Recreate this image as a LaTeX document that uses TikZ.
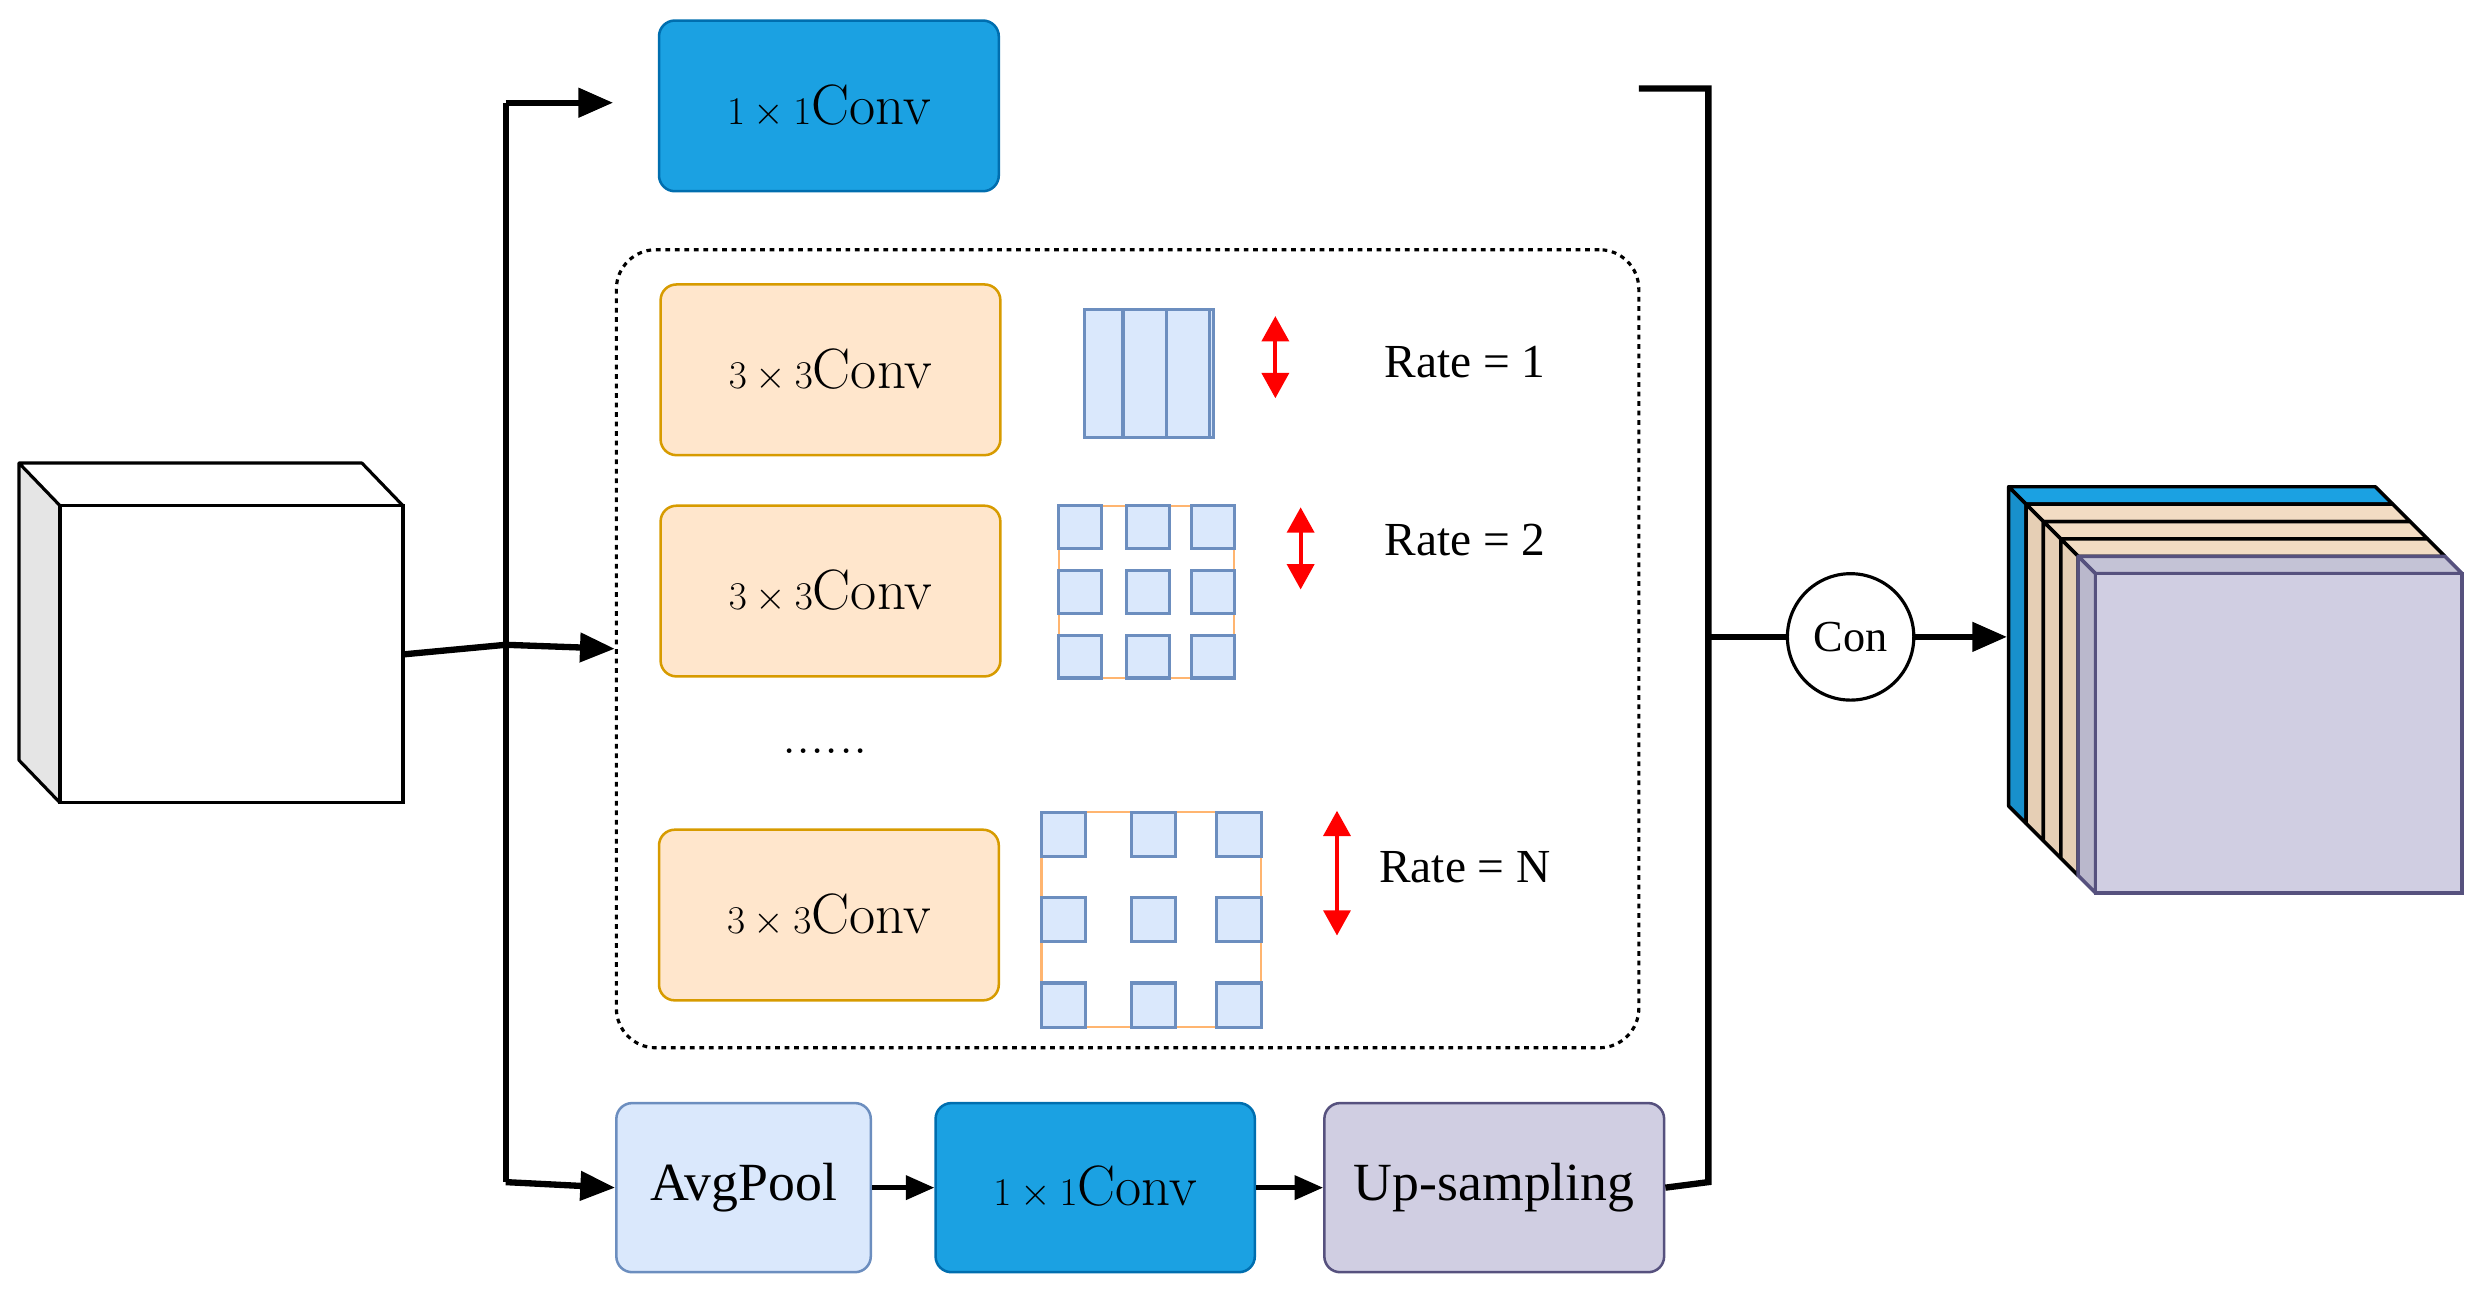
\documentclass[tikz,border=0pt]{standalone}
\usepackage[no-math]{fontspec}
\newfontfamily\tnr{Liberation Serif}
\usetikzlibrary{arrows.meta}
\definecolor{cblue}{HTML}{1BA1E2}\definecolor{cbluel}{HTML}{006EAF}
\definecolor{oran}{HTML}{FFE6CC}\definecolor{oranl}{HTML}{D79B00}
\definecolor{lblue}{HTML}{DAE8FC}\definecolor{lbluel}{HTML}{6C8EBF}
\definecolor{purp}{HTML}{D0CEE2}\definecolor{purpl}{HTML}{56517E}
\definecolor{gridor}{HTML}{FFB570}
\definecolor{beigetop}{HTML}{F2DCC3}\definecolor{beigeside}{HTML}{E6CFB5}
\definecolor{purptop}{HTML}{C4C3D6}\definecolor{purpside}{HTML}{BAB8CC}
\definecolor{blueside}{HTML}{1890CC}
\tikzset{
 box/.style={rounded corners=10pt,line width=1.6pt,minimum width=215pt,minimum height=108pt,inner sep=0pt},
 bluebox/.style={box,fill=cblue,draw=cbluel},
 orbox/.style={box,fill=oran,draw=oranl},
 conv/.style={font=\fontsize{36}{40}\selectfont},
 tn/.style={font=\tnr\fontsize{30}{34}\selectfont},
 thick4/.style={line width=4pt},
 tip/.style={-{Triangle[length=22pt,width=18pt]}},
 stip/.style={-{Triangle[length=18pt,width=15pt]}},
 cell/.style={fill=lblue,draw=lbluel,line width=2pt},
 redarr/.style={{Triangle[length=16pt,width=17pt]}-{Triangle[length=16pt,width=17pt]},red,line width=2.5pt},
}
\begin{document}
\begin{tikzpicture}[x=1pt,y=-1pt]
\useasboundingbox (0,0) rectangle (1568,824);
% input cube
\fill[white] (12,293)--(229,293)--(255,320)--(38,320)--cycle;
\fill[gray!20] (12,293)--(38,320)--(38,508)--(12,481)--cycle;
\draw[line width=2pt,line join=round] (12,293)--(229,293)--(255,320)--(38,320)--cycle (12,293)--(12,481)--(38,508);
\node[draw,line width=2pt,fill=white,minimum width=217pt,minimum height=188pt,inner sep=0pt] (in) at (146.5,414) {};
% dashed region
\node[draw,dashed,line width=2pt,rounded corners=25pt,minimum width=647pt,minimum height=505pt] (dash) at (713.5,410.5) {};
% boxes
\node[bluebox,conv] (c1) at (524.5,67) {$1\times1$Conv};
\node[orbox,conv] (o1) at (525.5,234) {$3\times3$Conv};
\node[orbox,conv] (o2) at (525.5,374) {$3\times3$Conv};
\node[orbox,conv] (o3) at (524.5,579) {$3\times3$Conv};
\node[conv] (dots) at (522,475) {......};
\node[box,fill=lblue,draw=lbluel,minimum width=161pt,minimum height=107pt,font=\tnr\fontsize{34}{38}\selectfont] (avg) at (470.5,751.5) {AvgPool};
\node[bluebox,conv,minimum width=202pt,minimum height=107pt] (c2) at (693,751.5) {$1\times1$Conv};
\node[box,fill=purp,draw=purpl,minimum width=215pt,minimum height=107pt,font=\tnr\fontsize{34}{38}\selectfont] (up) at (945.5,751.5) {Up-sampling};
% grids
\fill[lblue] (686,196) rectangle (768,277);
\draw[lbluel,line width=2pt] (686,196) grid[xstep=27.33,ystep=27] (768,277);
\draw[lbluel,line width=2pt] (686,196) rectangle (768,277);
\draw[gridor,line width=1.5pt] (670,320) rectangle (781,429);
\foreach \x in {670,713,754}\foreach \y in {320,361,402}\draw[cell] (\x,\y) rectangle ++(27,27);
\draw[gridor,line width=1.5pt] (659,514) rectangle (798,650);
\foreach \x in {659,716,770}\foreach \y in {514,568,622}\draw[cell] (\x,\y) rectangle ++(28,28);
% red arrows
\coordinate (r1a) at (807,200);\coordinate (r1b) at (807,252);
\coordinate (r2a) at (823,321);\coordinate (r2b) at (823,373);
\coordinate (r3a) at (846,513);\coordinate (r3b) at (846,592);
\draw[redarr] (r1a)--(r1b);\draw[redarr] (r2a)--(r2b);\draw[redarr] (r3a)--(r3b);
\node[tn] (t1) at (927,229) {Rate = 1};
\node[tn] (t2) at (927,342) {Rate = 2};
\node[tn] (t3) at (927,549) {Rate = N};
% left connectors
\coordinate (j) at (320,408);
\coordinate (jt) at (320,65);
\coordinate (e1) at (388,65);
\coordinate (jb) at (320,748);
\draw[thick4] (in.east)--(j);
\draw[thick4,tip] (jt)--(e1);
\draw[thick4] (jt)--(jb);
\draw[thick4,tip] (j)--(dash.west);
\draw[thick4,tip] (jb)--(avg.west);
\draw[line width=3pt,stip] (avg)--(c2);
\draw[line width=3pt,stip] (c2)--(up);
% right collector
\node[draw,circle,line width=2pt,minimum size=80pt,inner sep=0pt,font=\tnr\fontsize{28}{32}\selectfont] (con) at (1171,403) {Con};
\coordinate (rt) at (1037,56);\coordinate (rc) at (1081,56);\coordinate (rb) at (1081,748);\coordinate (rm) at (1081,403);
\draw[thick4] (rt)--(rc)--(rb)--(up.east);
\draw[thick4] (rm)--(con.west);
\coordinate (outc) at (1270,403);
\draw[thick4,tip] (con.east)--(outc);
% output cube
\def\W{232}\def\H{202}
\foreach \k/\tc/\sc/\lc in {0/cblue/blueside/black,1/beigetop/beigeside/black,2/beigetop/beigeside/black,3/beigetop/beigeside/black,4/purptop/purpside/purpl}{
  \pgfmathsetmacro\a{1271+\k*11}\pgfmathsetmacro\b{1271+(\k+1)*11}
  \pgfmathsetmacro\ay{308+\k*11}\pgfmathsetmacro\by{308+(\k+1)*11}
  \filldraw[fill=\tc,draw=\lc,line width=2.2pt,line join=round] (\a,\ay)--(\a+\W,\ay)--(\b+\W,\by)--(\b,\by)--cycle;
  \filldraw[fill=\sc,draw=\lc,line width=2.2pt,line join=round] (\a,\ay)--(\b,\by)--(\b,\by+\H)--(\a,\ay+\H)--cycle;
}
\filldraw[fill=purp,draw=purpl,line width=2.2pt] (1326,363) rectangle (1558,565);
\end{tikzpicture}
\end{document}
